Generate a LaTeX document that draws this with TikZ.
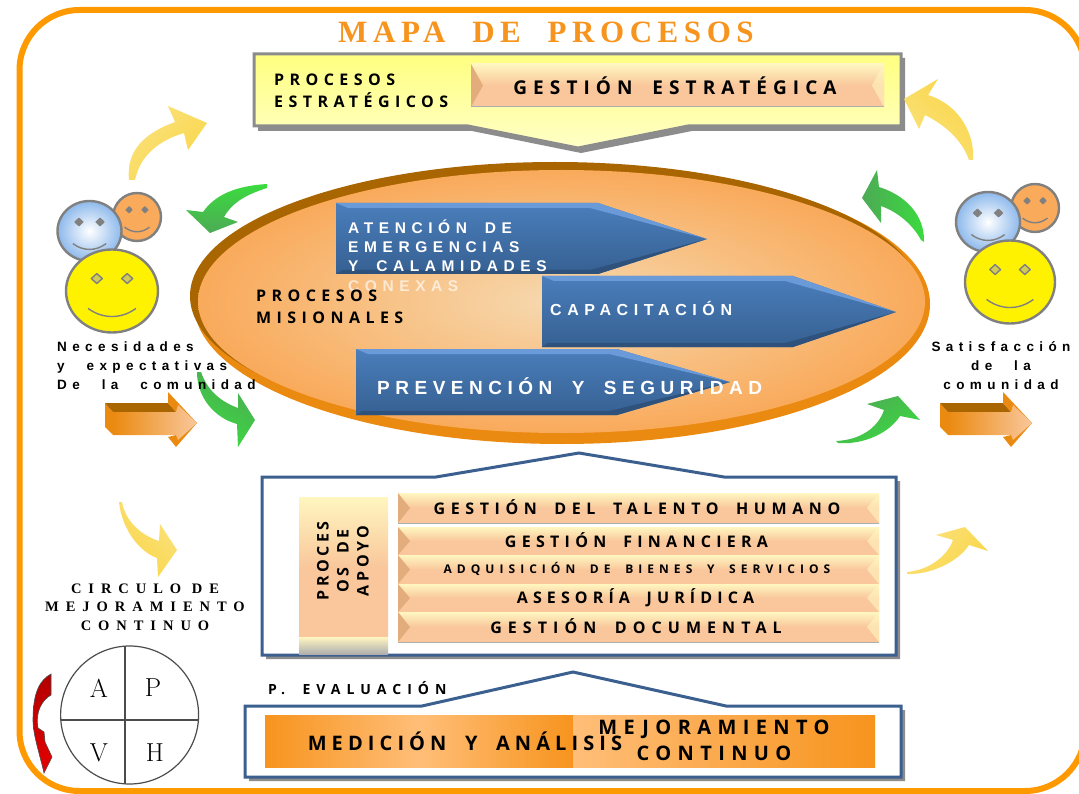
\documentclass[tikz,border=0pt]{standalone}
\usepackage{fontspec}
\newfontfamily\boxfont[WordSpace=1.8]{Open Sans}
\newfontfamily\armfont[WordSpace=1.8]{Liberation Sans}
\newfontfamily\notefont[WordSpace=2.4]{Liberation Sans}
\newfontfamily\capfont[WordSpace=1]{Liberation Serif}
\newfontfamily\headfont[WordSpace=2]{Liberation Serif}
\definecolor{framebar}{HTML}{FF9900}
\definecolor{rimbrown}{HTML}{A96500}
\definecolor{rimorange}{HTML}{EB8A10}
\definecolor{discedge}{HTML}{F9AA5B}
\definecolor{disccore}{HTML}{F6D9B0}
\definecolor{steeltop}{HTML}{4A7EBB}
\definecolor{steelbot}{HTML}{366092}
\definecolor{steellite}{HTML}{6A9BD8}
\definecolor{peach}{HTML}{F9C79B}
\definecolor{peachpale}{HTML}{FFF6C0}
\definecolor{peachdark}{HTML}{E3AC7C}
\definecolor{rulegrey}{HTML}{8C8C8C}
\definecolor{navyline}{HTML}{3B5F8E}
\definecolor{goldarrow}{HTML}{F9D648}
\definecolor{goldpale}{HTML}{FBE27E}
\definecolor{greenarrow}{HTML}{3BDB3F}
\definecolor{greendark}{HTML}{4DAA55}
\definecolor{barorange}{HTML}{F7941E}
\definecolor{barlight}{HTML}{FFBE78}
\definecolor{facerimc}{HTML}{808080}
\definecolor{facesky}{HTML}{8DB9EC}
\tikzset{
  tracked/.style 2 args={inner sep=0pt,font=\boxfont\bfseries\fontsize{#1}{#1}\selectfont\addfontfeature{LetterSpace=#2}},
  plainarm/.style 2 args={inner sep=0pt,font=\armfont\bfseries\fontsize{#1}{19}\selectfont\addfontfeature{LetterSpace=#2}},
  plainnote/.style={inner sep=0pt,font=\notefont\bfseries\fontsize{13.5}{19}\selectfont\addfontfeature{LetterSpace=40}},
  goldtip/.style={left color=goldpale,right color=goldarrow},
  greentip/.style={left color=greendark,right color=greenarrow},
  facerim/.style={draw=facerimc,line width=2.4pt},
  steelarrow/.style={top color=steeltop,bottom color=steelbot}
}
\newcommand{\smiley}[6]{
  \begin{scope}[shift={(#1,#2)},x=#3pt,y=-#4pt]
    \path[facerim,#5] (0,0) circle [radius=1];
    \foreach \s in {-1,1}
      \draw[draw=facerimc,line width=1.4pt,fill=#6,line join=round] (\s*.33-.12,-.3) -- (\s*.33,-.3+.12) -- (\s*.33+.12,-.3) -- (\s*.33,-.3-.12) -- cycle;
    \draw[facerimc,line width=1.4pt] (-.52,.42) .. controls (-.2,.68) and (.2,.68) .. (.52,.42);
  \end{scope}
}
\newcommand{\peachbar}[4]{
  \shade[top color=peachpale,bottom color=peach,middle color=peach] (#1,#2) rectangle (#3,#4);
  \fill[peachdark] (#1,#2) -- ++(12,{(#4-#2)/2}) -- (#1,#4) -- cycle;
  \fill[peachpale,opacity=.6] (#3,#2) -- ++(-12,{(#4-#2)/2}) -- (#3,#4) -- cycle;
  \draw[rulegrey!70,line width=1pt] (#1,#4) -- (#3,#4);
}
\begin{document}
\begin{tikzpicture}[x=1pt,y=-1pt]
    \clip (0,0) rectangle (1079,794);
    \fill[white] (0,0) rectangle (1079,794);
    \draw[framebar,line width=6pt,rounded corners=60pt] (19.5,10) rectangle (1085,791);

    \node[inner sep=0pt,text=barorange,font=\headfont\bfseries\fontsize{31}{31}\selectfont\addfontfeature{LetterSpace=18}] (maptitle) at (546,32) {MAPA DE PROCESOS};

    \fill[rulegrey] (258,58) -- (905,58) -- (905,131) -- (692,131) -- (581,153) -- (472,131) -- (258,131) -- cycle;
    \shade[top color=yellow!50,bottom color=yellow!22,draw=rulegrey,line width=3pt] (254,54) -- (901,54) -- (901,126) -- (688,126) -- (578,148) -- (468,126) -- (254,126) -- cycle;
    \peachbar{471}{64}{884}{107}
    \node[tracked={16}{34},align=left,anchor=west] (estrat) at (274,91) {PROCESOS\\[6pt]ESTRATÉGICOS};
    \node[tracked={19}{32}] (gestest) at (675,86) {GESTIÓN ESTRATÉGICA};

    \fill[rimorange] (562,304) ellipse [x radius=368,y radius=140];
    \fill[rimbrown] (555,296) ellipse [x radius=365,y radius=134];
    \shade[inner color=disccore,outer color=discedge] (561.5,301.5) ellipse [x radius=363.5,y radius=131.5];

    \foreach \xa/\sh/\tip/\ya/\yb/\yc in {336/598/707/203/239/274, 356/617/730/349/382/415, 542/793/896/276/312/347}{
      \shade[steelarrow] (\xa,\ya) -- (\sh,\ya) -- (\tip,\yb) -- (\sh,\yc) -- (\xa,\yc) -- cycle;
      \fill[steellite] (\xa,\ya) -- (\sh,\ya) -- (\tip,\yb) -- (\sh-8,\ya+5) -- (\xa+12,\ya+5) -- cycle;
      \fill[steelbot!85!black] (\xa,\yc) -- (\sh,\yc) -- (\tip,\yb) -- (\sh-8,\yc-4) -- (\xa+6,\yc-4) -- cycle;
    }

    \node[plainarm={15.5}{36},text=white,anchor=north west,align=left] (atencion) at (348,220) {ATENCIÓN DE\\EMERGENCIAS\\Y CALAMIDADES};
    \node[plainarm={15.5}{36},text=white,opacity=.65,anchor=west] (conexas) at (348,286) {CONEXAS};
    \node[plainarm={16}{35},text=white,anchor=west] (capac) at (550,308) {CAPACITACIÓN};
    \node[plainarm={19}{29},text=white,anchor=west] (prev) at (377,386) {PREVENCIÓN Y SEGURIDAD};
    \node[tracked={16}{34},align=left,anchor=west] (misional) at (256,307) {PROCESOS\\[6pt]MISIONALES};

    \smiley{137}{217}{24}{24}{fill=discedge}{facerimc}
    \smiley{89.5}{231}{32}{30}{inner color=white,outer color=facesky}{facerimc}
    \smiley{112}{291}{46}{41.5}{fill=yellow}{yellow!60!facerimc}
    \smiley{1035}{208}{24}{24}{fill=discedge}{facerimc}
    \smiley{988}{222}{32}{30}{inner color=white,outer color=facesky}{facerimc}
    \smiley{1010}{282}{45}{41.5}{fill=yellow}{yellow!60!facerimc}

    \foreach \dx in {0,835}{
      \begin{scope}[shift={(\dx,0)}]
        \fill[rimorange] (105,403) -- (105,427) -- (113,435) -- (113,412) -- cycle;
        \fill[rimbrown] (105,403) -- (168,403) -- (176,412) -- (113,412) -- cycle;
        \fill[rimorange] (168,392) -- (197,423) -- (176,447) -- (168,437) -- (176,435) -- (176,412) -- (168,403) -- cycle;
        \shade[left color=rimorange,middle color=white,right color=peach] (113,412) -- (176,412) -- (178,405) -- (197,423) -- (178,440) -- (176,435) -- (113,435) -- cycle;
      \end{scope}
    }

    \shade[goldtip,shading angle=45] (129,180) .. controls (126,150) and (145,133) .. (175,122) -- (168,106) -- (207,123) -- (188,150) -- (184,133) .. controls (160,140) and (140,155) .. (135,180) -- cycle;
    \shade[goldtip,shading angle=135] (973,160) .. controls (975,135) and (960,105) .. (928,95) -- (938,79) -- (904,99) -- (919,129) -- (925,115) .. controls (945,125) and (962,140) .. (969,160) -- cycle;
    \shade[goldtip,shading angle=-45] (119,502) .. controls (122,530) and (140,552) .. (157,558) -- (158,577) -- (177,550) -- (160,524) -- (159,541) .. controls (140,535) and (125,520) .. (122,502) -- cycle;
    \shade[goldtip,shading angle=45] (907,572) .. controls (930,570) and (948,555) .. (953,540) -- (936,535) -- (965,527) -- (988,551) -- (969,545) .. controls (958,562) and (930,575) .. (907,574) -- cycle;
    \shade[greentip,shading angle=180] (267,184) .. controls (235,186) and (215,195) .. (203,212) -- (186,210) -- (210,233) -- (238,222) -- (224,217) .. controls (232,203) and (245,195) .. (267,188) -- cycle;
    \shade[greentip,shading angle=90] (924,242) .. controls (925,215) and (905,195) .. (879,187) -- (877,170) -- (862,198) -- (881,223) -- (881,206) .. controls (898,212) and (913,225) .. (921,240) -- cycle;
    \shade[greentip,shading angle=-30] (197,372) .. controls (197,398) and (215,418) .. (237,424) -- (238,447) -- (255,420) -- (238,393) -- (238,408) .. controls (222,402) and (208,392) .. (201,372) -- cycle;
    \shade[greentip,shading angle=30] (836,441) .. controls (860,440) and (878,428) .. (884,410) -- (867,404) -- (898,396) -- (920,420) -- (900,416) .. controls (890,432) and (865,445) .. (838,443) -- cycle;

    \node[plainnote,align=left,anchor=west] (necesid) at (57,366) {Necesidades\\y expectativas\\De la comunidad};
    \node[plainnote,align=center] (satisf) at (1001,366) {Satisfacción\\de la\\comunidad};

    \fill[rulegrey] (266,481) -- (440,481) -- (582,457) -- (728,481) -- (900,481) -- (900,659) -- (266,659) -- cycle;
    \draw[navyline,fill=white,line width=3pt] (262,477) -- (436,477) -- (579,453) -- (724,477) -- (896,477) -- (896,655) -- (262,655) -- cycle;

    \shade[top color=peachpale,bottom color=peach,middle color=peach] (299,497) rectangle (388,637);
    \shade[top color=peachpale,bottom color=rulegrey!70] (299,637) rectangle (388,654);
    \node[tracked={16}{22},rotate=90,align=center] (apoyo) at (343,561) {PROCES\\[4pt]OS DE\\[4pt]APOYO};

    \foreach \tp/\bt/\nm/\lbl/\mx/\wsz/\wls in {
        493/523/bartalento/GESTIÓN DEL TALENTO HUMANO/637/16/35,
        527/555/barfinanza/GESTIÓN FINANCIERA/636.5/16/33,
        555/584/baradquis/ADQUISICIÓN DE BIENES Y SERVICIOS/637/12/42,
        584/612/barjuridica/ASESORÍA JURÍDICA/635.5/16/32,
        612/642/bardocum/GESTIÓN DOCUMENTAL/636/16/38}{
      \peachbar{398}{\tp}{879}{\bt}
      \node[tracked={\wsz}{\wls}] (\nm) at (\mx,{(\tp+\bt)/2-.5}) {\lbl};
    }

    \node[tracked={14}{43},anchor=west] (evalua) at (268,688) {P. EVALUACIÓN};
    \fill[rulegrey] (249,710) -- (426,710) -- (576,676) -- (730,710) -- (905,710) -- (905,781) -- (249,781) -- cycle;
    \draw[navyline,fill=white,line width=3pt] (245,706) -- (422,706) -- (573,672) -- (726,706) -- (901,706) -- (901,777) -- (245,777) -- cycle;
    \shade[left color=barorange,right color=barorange,middle color=barlight] (265,715) rectangle (573,767);
    \shade[left color=barlight,right color=barorange] (573,715) rectangle (875,767);
    \node[tracked={20}{25.5}] (medicion) at (465,741) {MEDICIÓN Y ANÁLISIS};
    \node[tracked={20}{32},align=center] (mejora) at (714,740) {MEJORAMIENTO\\[6pt]CONTINUO};

    \node[inner sep=0pt,align=center,font=\capfont\bfseries\fontsize{14.5}{18.5}\selectfont\addfontfeature{LetterSpace=48}] (circulo) at (145,607) {CIRCULO DE\\MEJORAMIENTO\\CONTINUO};

    \draw[black!70,line width=1.2pt] (129.6,715) circle [radius=69];
    \draw[black!70,line width=1.2pt] (125,646) -- (125,784) (60.5,720) -- (198.8,720);
    \node[font=\fontsize{26}{26}\selectfont] (letraa) at (99,688) {A};
    \node[font=\fontsize{26}{26}\selectfont] (letrap) at (153,688) {P};
    \node[font=\fontsize{26}{26}\selectfont] (letrav) at (99,753) {V};
    \node[font=\fontsize{26}{26}\selectfont] (letrah) at (155,753) {H};
    \shade[top color=red!70!black,bottom color=red!90!black,draw=black!70,line width=.6pt] (51,674) .. controls (40,680) and (33,692) .. (33,720) .. controls (33,735) and (40,755) .. (44,773) -- (52,757) -- (45,742) -- (44,732) -- (38,728) .. controls (35,712) and (42,700) .. (51,695) -- cycle;
  \end{tikzpicture}
\end{document}
